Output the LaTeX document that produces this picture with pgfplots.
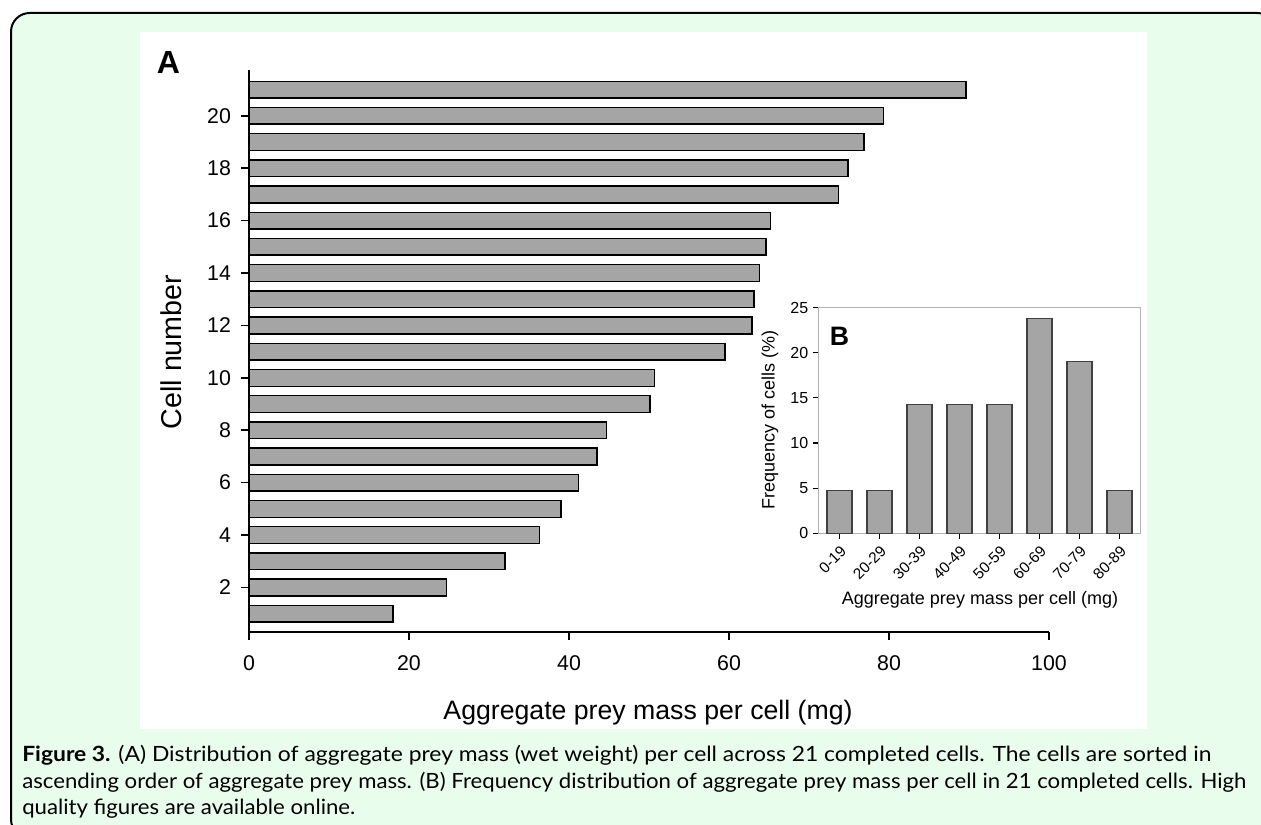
\documentclass[border=0pt]{standalone}
\usepackage{fontspec}
\setmainfont{Liberation Sans}
\newfontfamily\capfont{Lato}
\usepackage{graphicx}
\usepackage{pgfplots}
\pgfplotsset{compat=1.18}
\definecolor{bgmint}{RGB}{233,253,236}
\definecolor{barfill}{RGB}{165,165,165}
\definecolor{barfillB}{RGB}{165,165,165}
\newsavebox\capboxA
\newsavebox\capboxB
\newsavebox\capboxC
\newcommand\capsize{\capfont\fontsize{15.75}{19}\selectfont}

\begin{document}%
\sbox\capboxA{\capsize{\bfseries Figure 3.} (A) Distribution of aggregate prey mass (wet weight) per cell across 21 completed cells. The cells are sorted in}%
\sbox\capboxB{\capsize ascending order of aggregate prey mass. (B) Frequency distribution of aggregate prey mass per cell in 21 completed cells. High}%
\sbox\capboxC{\capsize quality figures are available online.}%
\pgfmathsetmacro\rA{891.75/\the\wd\capboxA}%
\pgfmathsetmacro\rB{918/\the\wd\capboxB}%
\begin{tikzpicture}[x=0.75pt,y=0.75pt]
\useasboundingbox (0,0) rectangle (1261,825);
\begin{scope}
\clip (0,0) rectangle (1261,825);
\draw[line width=1.5pt, fill=bgmint, rounded corners=14pt] (11,812) rectangle (1276,-13);
\end{scope}
\fill[white] (140,793) rectangle (1146.7,96);

\begin{axis}[
  at={(186.75pt,144.75pt)}, anchor=south west,
  scale only axis, width=600pt, height=421.5pt,
  xmin=0, xmax=100, ymin=0.3, ymax=21.75,
  axis x line=bottom, axis y line=left,
  axis line style={-, line width=1.3pt},
  xtick={0,20,...,100}, ytick={2,4,...,20},
  tick align=outside, major tick length=6pt,
  tick style={line width=1.2pt, black},
  ticklabel style={font=\fontsize{16}{19}\selectfont},
  xticklabel style={yshift=-8pt},
  yticklabel style={xshift=-4pt},
  /pgf/number format/assume math mode=true,
  xbar, bar width=0.64,
  clip=false,
]
\addplot[fill=barfill, draw=black, line width=1.1pt] coordinates {
(18.0,1) (24.7,2) (32.0,3) (36.3,4) (39.0,5) (41.2,6) (43.5,7)
(44.7,8) (50.1,9) (50.7,10) (59.5,11) (62.9,12) (63.1,13) (63.8,14)
(64.6,15) (65.2,16) (73.7,17) (74.9,18) (76.9,19) (79.3,20) (89.6,21)
};
\end{axis}

\begin{axis}[
  at={(613.7pt,218.8pt)}, anchor=south west,
  scale only axis, width=241.8pt, height=169.2pt,
  xmin=-0.53, xmax=7.53, ymin=0, ymax=25,
  axis background/.style={fill=white},
  axis line style={gray!60, line width=0.8pt},
  tick pos=left, tick align=outside, major tick length=4pt,
  tick style={black, line width=0.8pt},
  xtick={0,...,7},
  xticklabels={0-19,20-29,30-39,40-49,50-59,60-69,70-79,80-89},
  xticklabel style={rotate=45, anchor=north east, font=\fontsize{11.5}{13}\selectfont},
  yticklabel style={font=\fontsize{12}{14}\selectfont},
  ytick={0,5,...,25},
  /pgf/number format/assume math mode=true,
  ybar, bar width=0.625,
]
\addplot[fill=barfillB, draw=black!75, line width=0.8pt] coordinates {
(0,4.76) (1,4.76) (2,14.29) (3,14.29) (4,14.29) (5,23.81) (6,19.05) (7,4.76)
};
\end{axis}

% panel texts
\node[font=\bfseries\fontsize{24}{28}\selectfont, inner sep=0] at (168.5,763) {A};
\node[font=\bfseries\fontsize{20}{24}\selectfont, inner sep=0] at (839.5,489) {B};
\node[font=\fontsize{21.5}{26}\selectfont, rotate=90, inner sep=0] at (171,473) {Cell number};
\node[font=\fontsize{20}{24}\selectfont, inner sep=0] at (648,112) {Aggregate prey mass per cell (mg)};
\node[font=\fontsize{13.5}{16}\selectfont, rotate=90, inner sep=0] at (770,405) {Frequency of cells (\%)};
\node[font=\fontsize{13.5}{16}\selectfont, inner sep=0] at (980,225) {Aggregate prey mass per cell (mg)};

% caption
\node[anchor=base west, inner sep=0] at (22,63.3) {\scalebox{\rA}[1]{\usebox\capboxA}};
\node[anchor=base west, inner sep=0] at (22,36.7) {\scalebox{\rB}[1]{\usebox\capboxB}};
\node[anchor=base west, inner sep=0] at (22,10) {\scalebox{\rB}[1]{\usebox\capboxC}};
\end{tikzpicture}
\end{document}
